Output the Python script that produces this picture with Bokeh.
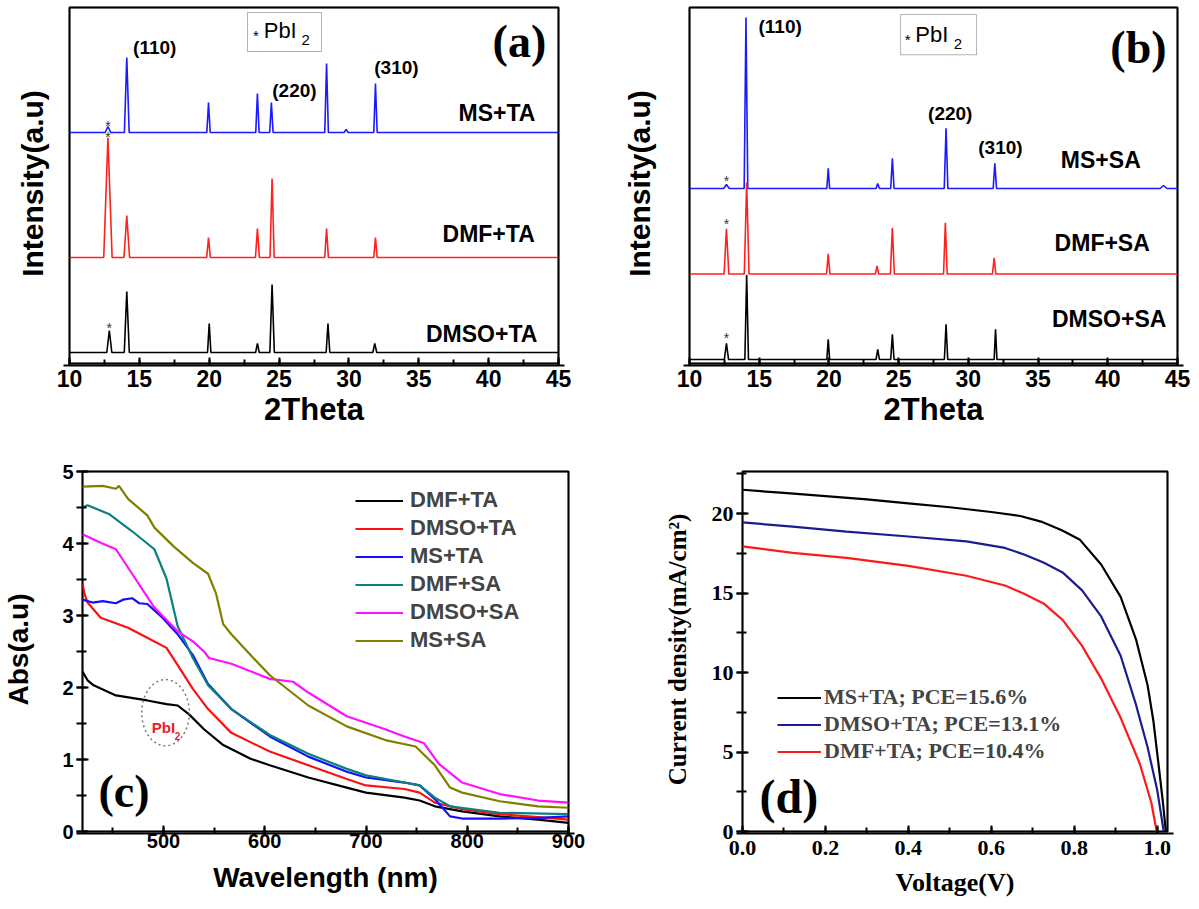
from bokeh.plotting import figure
from bokeh.layouts import row, column
from bokeh.models import (Label, Legend, LegendItem, BoxAnnotation, SingleIntervalTicker,
                          FixedTicker, NumeralTickFormatter, Range1d)
from bokeh.embed import file_html
from bokeh.resources import INLINE

SANS = "Liberation Sans"
SERIF = "Liberation Serif"

# ---------------- Panel (a): XRD, TA series (offset intensities, a.u.) ----------------
a_ms_base = 231
a_ms_pos = [12.75, 14.1, 19.95, 23.45, 24.45, 28.4, 29.8, 31.9]
a_ms_top = [237, 306, 261, 270, 261, 300, 234, 280]
a_ms_w = [0.2, 0.17, 0.12, 0.12, 0.12, 0.13, 0.15, 0.12]

a_dmf_base = 106
a_dmf_pos = [12.75, 14.1, 19.95, 23.45, 24.5, 28.4, 31.9]
a_dmf_top = [226, 148, 126, 135, 185, 135, 126]
a_dmf_w = [0.3, 0.2, 0.13, 0.14, 0.15, 0.13, 0.12]

a_dmso_base = 11
a_dmso_pos = [12.85, 14.1, 20.0, 23.45, 24.5, 28.5, 31.85]
a_dmso_top = [33, 72, 40, 20, 79, 40, 20]
a_dmso_w = [0.18, 0.18, 0.12, 0.13, 0.16, 0.13, 0.14]

# ---------------- Panel (b): XRD, SA series ----------------
b_ms_base = 174
b_ms_pos = [12.65, 14.05, 19.95, 23.5, 24.55, 28.4, 31.9, 44.0]
b_ms_top = [178, 344, 194, 179, 204, 234, 199, 177]
b_ms_w = [0.2, 0.13, 0.1, 0.12, 0.12, 0.13, 0.12, 0.25]

b_dmf_base = 89
b_dmf_pos = [12.65, 14.1, 19.95, 23.45, 24.55, 28.35, 31.85]
b_dmf_top = [134, 180, 109, 97, 135, 140, 105]
b_dmf_w = [0.17, 0.17, 0.12, 0.12, 0.14, 0.13, 0.12]

b_dmso_base = 4
b_dmso_pos = [12.65, 14.1, 19.95, 23.5, 24.55, 28.4, 31.95]
b_dmso_top = [20, 88, 24, 14, 29, 39, 34]
b_dmso_w = [0.15, 0.13, 0.1, 0.12, 0.12, 0.12, 0.1]

# ---------------- Panel (c): absorbance ----------------
c_dmf_ta_x = [420, 425, 431, 453, 484, 503, 514, 525, 540, 559, 586, 605, 643, 681, 700, 738, 753, 768, 795, 832, 870, 900]
c_dmf_ta_y = [2.22, 2.10, 2.03, 1.89, 1.82, 1.77, 1.75, 1.63, 1.42, 1.20, 1.01, 0.92, 0.75, 0.61, 0.54, 0.47, 0.43, 0.35, 0.28, 0.21, 0.165, 0.12]

c_dmso_ta_x = [420, 422, 425, 438, 465, 484, 503, 514, 529, 544, 567, 605, 643, 681, 700, 738, 753, 768, 795, 832, 870, 900]
c_dmso_ta_y = [3.44, 3.30, 3.18, 2.97, 2.83, 2.69, 2.55, 2.31, 1.98, 1.70, 1.37, 1.11, 0.92, 0.73, 0.64, 0.59, 0.54, 0.40, 0.31, 0.24, 0.20, 0.165]

c_ms_ta_x = [420, 430, 440, 453, 460, 469, 476, 484, 499, 514, 529, 544, 567, 605, 643, 681, 700, 738, 753, 768, 783, 795, 832, 870, 900]
c_ms_ta_y = [3.22, 3.18, 3.20, 3.17, 3.22, 3.24, 3.17, 3.16, 2.97, 2.74, 2.45, 2.05, 1.70, 1.32, 1.04, 0.83, 0.75, 0.68, 0.64, 0.45, 0.21, 0.18, 0.18, 0.19, 0.21]

c_dmf_sa_x = [420, 425, 446, 469, 491, 503, 514, 529, 544, 567, 605, 643, 681, 700, 738, 753, 768, 783, 832, 900]
c_dmf_sa_y = [4.50, 4.53, 4.41, 4.17, 3.92, 3.51, 2.85, 2.41, 2.03, 1.70, 1.34, 1.08, 0.87, 0.78, 0.68, 0.64, 0.47, 0.35, 0.26, 0.24]

c_dmso_sa_x = [420, 438, 453, 469, 491, 514, 529, 540, 545, 567, 605, 628, 643, 681, 719, 738, 757, 772, 795, 832, 870, 900]
c_dmso_sa_y = [4.13, 4.01, 3.92, 3.58, 3.11, 2.78, 2.64, 2.50, 2.41, 2.33, 2.12, 2.08, 1.93, 1.60, 1.42, 1.32, 1.23, 0.94, 0.68, 0.52, 0.43, 0.40]

c_ms_sa_x = [420, 440, 453, 456, 465, 484, 491, 510, 529, 544, 552, 559, 567, 586, 605, 643, 681, 719, 749, 768, 783, 795, 832, 870, 900]
c_ms_sa_y = [4.79, 4.80, 4.76, 4.80, 4.62, 4.39, 4.22, 3.96, 3.73, 3.58, 3.30, 2.88, 2.74, 2.45, 2.17, 1.75, 1.46, 1.27, 1.18, 0.92, 0.61, 0.54, 0.42, 0.35, 0.33]

# PbI2 marker (dotted ellipse) in panel (c): centre (nm, a.u.), size
c_pbi2_x = [502]
c_pbi2_y = [1.65]
c_pbi2_w = 47
c_pbi2_h = 0.92

# ---------------- Panel (d): J-V curves ----------------
d_ms_v = [0, 0.1, 0.2, 0.3, 0.4, 0.5, 0.6, 0.67, 0.72, 0.77, 0.814, 0.865, 0.912, 0.949, 0.977, 0.991, 1.005, 1.014, 1.021]
d_ms_j = [21.5, 21.3, 21.1, 20.9, 20.65, 20.4, 20.1, 19.85, 19.5, 18.95, 18.35, 16.8, 14.76, 12.09, 9.2, 6.95, 3.86, 1.81, 0]

d_dmso_v = [0, 0.121, 0.251, 0.4, 0.54, 0.633, 0.679, 0.726, 0.772, 0.819, 0.865, 0.912, 0.949, 0.977, 1.0, 1.016]
d_dmso_j = [19.45, 19.18, 18.87, 18.56, 18.25, 17.84, 17.43, 16.92, 16.3, 15.17, 13.53, 11.06, 7.98, 5.30, 2.63, 0]

d_dmf_v = [0, 0.121, 0.251, 0.4, 0.54, 0.633, 0.679, 0.726, 0.772, 0.819, 0.865, 0.912, 0.958, 0.986, 0.999]
d_dmf_j = [17.94, 17.53, 17.22, 16.71, 16.09, 15.48, 14.96, 14.35, 13.32, 11.68, 9.62, 7.15, 4.28, 1.81, 0]

# frame box drawn a few pixels inside the plotting area
INSET = 6
INSET_B = 2


def xrd_line(base, pos, top, w):
    xs = [10.0]
    ys = [base]
    for p_, t_, w_ in zip(pos, top, w):
        xs += [p_ - w_, p_, p_ + w_]
        ys += [base, t_, base]
    xs.append(45.0)
    ys.append(base)
    return xs, ys


def make_fig(box_left, box_w, box_h, canvas_w, bt, bb, xlim, ylim):
    fl = box_left - INSET
    fw = box_w + 2 * INSET
    fh = box_h + INSET + INSET_B
    br = canvas_w - fl - fw
    dx = (xlim[1] - xlim[0]) / box_w
    dy = (ylim[1] - ylim[0]) / box_h
    p = figure(frame_width=fw, frame_height=fh,
               x_range=Range1d(xlim[0] - INSET * dx, xlim[1] + INSET * dx),
               y_range=Range1d(ylim[0] - INSET_B * dy, ylim[1] + INSET * dy),
               output_backend="svg", toolbar_location=None,
               min_border_left=fl, min_border_right=br, min_border_top=bt, min_border_bottom=bb)
    p.title.visible = False
    p.outline_line_color = None
    p.background_fill_color = "white"
    p.border_fill_color = "white"
    p.grid.visible = False
    x0, x1 = xlim
    y0, y1 = ylim
    p.line([x0, x1, x1, x0, x0], [y0, y0, y1, y1, y0], line_color="black", line_width=2)
    p.add_layout(BoxAnnotation(left=x0, right=x1, bottom=y0, top=y1, fill_color=None,
                               fill_alpha=0, line_color="black", line_width=2))
    for ax in p.axis:
        ax.major_tick_out = 0
        ax.minor_tick_out = 0
        ax.major_tick_line_width = 2
        ax.minor_tick_line_width = 2
        ax.major_label_text_color = "black"
        ax.axis_label_text_color = "black"
        ax.axis_label_text_font_style = "bold"
        ax.major_label_text_font_style = "bold"
    p.xaxis.axis_line_width = 2
    p.xaxis.axis_line_color = "black"
    p.xaxis.major_tick_in = INSET_B + 6
    p.xaxis.minor_tick_in = INSET_B + 4
    p.yaxis.axis_line_color = None
    p.yaxis.major_tick_in = INSET + 6
    p.yaxis.minor_tick_in = INSET + 4
    return p


def lbl(p, x, y, text, size, font=SANS, bold=True, color="black", align="center"):
    p.add_layout(Label(x=x, y=y, text=text, text_font=font, text_font_size=size,
                       text_font_style="bold" if bold else "normal", text_color=color,
                       text_align=align, text_baseline="middle"))


def xrd_fig(box_left, box_w, canvas_w, ytop, ylab_standoff):
    p = make_fig(box_left, box_w, 356, canvas_w, 1, 75, (10, 45), (0, ytop))
    p.xaxis.ticker = SingleIntervalTicker(interval=5, num_minor_ticks=2)
    p.xaxis.major_label_text_font = SANS
    p.xaxis.major_label_text_font_size = "23px"
    p.xaxis.major_label_standoff = 4
    p.xaxis.axis_label = "2Theta"
    p.xaxis.axis_label_text_font = SANS
    p.xaxis.axis_label_text_font_size = "31px"
    p.xaxis.axis_label_standoff = 2
    p.yaxis.ticker = FixedTicker(ticks=[])
    p.yaxis.major_label_standoff = 10
    p.yaxis.axis_label = "Intensity(a.u)"
    p.yaxis.axis_label_text_font = SANS
    p.yaxis.axis_label_text_font_size = "30px"
    p.yaxis.axis_label_standoff = ylab_standoff
    return p


# ---------- (a) ----------
p1 = xrd_fig(69, 489, 600, 356, 15)
for base, pos, top, w, col in [(a_ms_base, a_ms_pos, a_ms_top, a_ms_w, "#1a1aff"),
                               (a_dmf_base, a_dmf_pos, a_dmf_top, a_dmf_w, "#ff2020"),
                               (a_dmso_base, a_dmso_pos, a_dmso_top, a_dmso_w, "black")]:
    xs, ys = xrd_line(base, pos, top, w)
    p1.line(xs, ys, line_color=col, line_width=1.6)

lbl(p1, 16.1, 316, "(110)", "19px")
lbl(p1, 26.1, 273, "(220)", "19px")
lbl(p1, 33.4, 296, "(310)", "19px")
lbl(p1, 40.6, 251, "MS+TA", "23px")
lbl(p1, 40.0, 130, "DMF+TA", "23px")
lbl(p1, 39.5, 30, "DMSO+TA", "23px")
lbl(p1, 42.2, 322, "(a)", "46px", font=SERIF)
p1.add_layout(BoxAnnotation(left=22.74, right=28.04, bottom=312, top=351, fill_alpha=0,
                            line_color="black", line_width=1))
lbl(p1, 23.35, 328, "*", "15px", bold=False)
lbl(p1, 23.9, 333, "PbI", "22px", bold=False, align="left")
lbl(p1, 26.6, 324, "2", "15px", bold=False, align="left")
lbl(p1, 12.75, 238, "*", "14px", bold=False, color="#333333")
lbl(p1, 12.75, 227, "*", "14px", bold=False, color="#333333")
lbl(p1, 12.85, 36, "*", "14px", bold=False, color="#333333")

# ---------- (b) ----------
p2 = xrd_fig(89, 488, 598, 354, 28)
for base, pos, top, w, col in [(b_ms_base, b_ms_pos, b_ms_top, b_ms_w, "#1a1aff"),
                               (b_dmf_base, b_dmf_pos, b_dmf_top, b_dmf_w, "#ff2020"),
                               (b_dmso_base, b_dmso_pos, b_dmso_top, b_dmso_w, "black")]:
    xs, ys = xrd_line(base, pos, top, w)
    p2.line(xs, ys, line_color=col, line_width=1.6)

lbl(p2, 16.5, 335, "(110)", "19px")
lbl(p2, 28.7, 249, "(220)", "19px")
lbl(p2, 32.3, 215, "(310)", "19px")
lbl(p2, 39.5, 202, "MS+SA", "23px")
lbl(p2, 39.6, 120, "DMF+SA", "23px")
lbl(p2, 40.1, 44, "DMSO+SA", "23px")
lbl(p2, 42.2, 314, "(b)", "46px", font=SERIF)
p2.add_layout(BoxAnnotation(left=25.14, right=30.59, bottom=307, top=347, fill_alpha=0,
                            line_color="black", line_width=1))
lbl(p2, 25.65, 322, "*", "15px", bold=False)
lbl(p2, 26.2, 327, "PbI", "22px", bold=False, align="left")
lbl(p2, 28.95, 318, "2", "15px", bold=False, align="left")
lbl(p2, 12.65, 181, "*", "14px", bold=False, color="#333333")
lbl(p2, 12.65, 139, "*", "14px", bold=False, color="#333333")
lbl(p2, 12.65, 25, "*", "14px", bold=False, color="#333333")

# ---------- (c) ----------
p3 = make_fig(82, 486, 360, 600, 25, 75, (420, 900), (0, 5))
p3.xaxis.ticker = SingleIntervalTicker(interval=100, num_minor_ticks=2)
p3.yaxis.ticker = SingleIntervalTicker(interval=1, num_minor_ticks=2)
for ax in p3.axis:
    ax.major_label_text_font = SANS
    ax.major_label_text_font_size = "20px"
    ax.axis_label_text_font = SANS
    ax.axis_label_text_font_size = "28px"
p3.xaxis.major_label_standoff = 0
p3.yaxis.major_label_standoff = 3
p3.xaxis.axis_label = "Wavelength (nm)"
p3.xaxis.axis_label_standoff = 11
p3.yaxis.axis_label = "Abs(a.u)"
p3.yaxis.axis_label_standoff = 25

c_series = [("DMF+TA", c_dmf_ta_x, c_dmf_ta_y, "black"),
            ("DMSO+TA", c_dmso_ta_x, c_dmso_ta_y, "#ff1010"),
            ("MS+TA", c_ms_ta_x, c_ms_ta_y, "#1010ff"),
            ("DMF+SA", c_dmf_sa_x, c_dmf_sa_y, "#0d7f7f"),
            ("DMSO+SA", c_dmso_sa_x, c_dmso_sa_y, "#ff10ff"),
            ("MS+SA", c_ms_sa_x, c_ms_sa_y, "#808000")]
items_c = []
for name, xs, ys, col in c_series:
    r = p3.line(xs, ys, line_color=col, line_width=2.2)
    items_c.append(LegendItem(label=name, renderers=[r]))
leg_c = Legend(items=items_c, location=(279, 180), label_text_font=SANS, label_text_font_size="22px",
               label_text_font_style="bold", glyph_width=48, glyph_height=25, label_height=25,
               spacing=2, padding=0, margin=0, border_line_color=None, background_fill_alpha=0,
               label_standoff=7)
p3.add_layout(leg_c)
p3.ellipse(x=c_pbi2_x, y=c_pbi2_y, width=c_pbi2_w, height=c_pbi2_h, fill_color=None,
           line_color="#777777", line_dash="2 3", line_width=1.5)
lbl(p3, 500, 1.44, "PbI", "15px", color="#e8202a")
lbl(p3, 511, 1.33, "2", "10px", color="#e8202a", align="left")
lbl(p3, 461, 0.56, "(c)", "46px", font=SERIF)

# ---------- (d) ----------
p4 = make_fig(142, 425, 360, 598, 25, 75, (0, 1.025), (0, 22.65))
p4.xaxis.ticker = SingleIntervalTicker(interval=0.2, num_minor_ticks=2)
p4.yaxis.ticker = SingleIntervalTicker(interval=5, num_minor_ticks=2)
p4.xaxis.formatter = NumeralTickFormatter(format="0.0")
for ax in p4.axis:
    ax.major_label_text_font = SERIF
    ax.major_label_text_font_size = "22px"
    ax.axis_label_text_font = SERIF
p4.xaxis.axis_label_text_font_size = "26px"
p4.yaxis.axis_label_text_font_size = "25px"
p4.xaxis.major_label_standoff = 7
p4.yaxis.major_label_standoff = 3
p4.xaxis.axis_label = "Voltage(V)"
p4.xaxis.axis_label_standoff = 10
p4.yaxis.axis_label = "Current density(mA/cm²)"
p4.yaxis.axis_label_standoff = 18

d_series = [("MS+TA; PCE=15.6%", d_ms_v, d_ms_j, "black"),
            ("DMSO+TA; PCE=13.1%", d_dmso_v, d_dmso_j, "#1c1c8f"),
            ("DMF+TA; PCE=10.4%", d_dmf_v, d_dmf_j, "#ff1a1a")]
items_d = []
for name, xs, ys, col in d_series:
    r = p4.line(xs, ys, line_color=col, line_width=2.2)
    items_d.append(LegendItem(label=name, renderers=[r]))
leg_d = Legend(items=items_d, location=(41, 69), label_text_font=SERIF, label_text_font_size="22px",
               label_text_font_style="bold", glyph_width=44, glyph_height=25, label_height=25,
               spacing=1, padding=0, margin=0, border_line_color=None, background_fill_alpha=0,
               label_standoff=3)
p4.add_layout(leg_d)
lbl(p4, 0.112, 2.2, "(d)", "48px", font=SERIF)

layout = column(row(p1, p2), row(p3, p4))
open("out.html", "w").write(file_html(layout, INLINE))
